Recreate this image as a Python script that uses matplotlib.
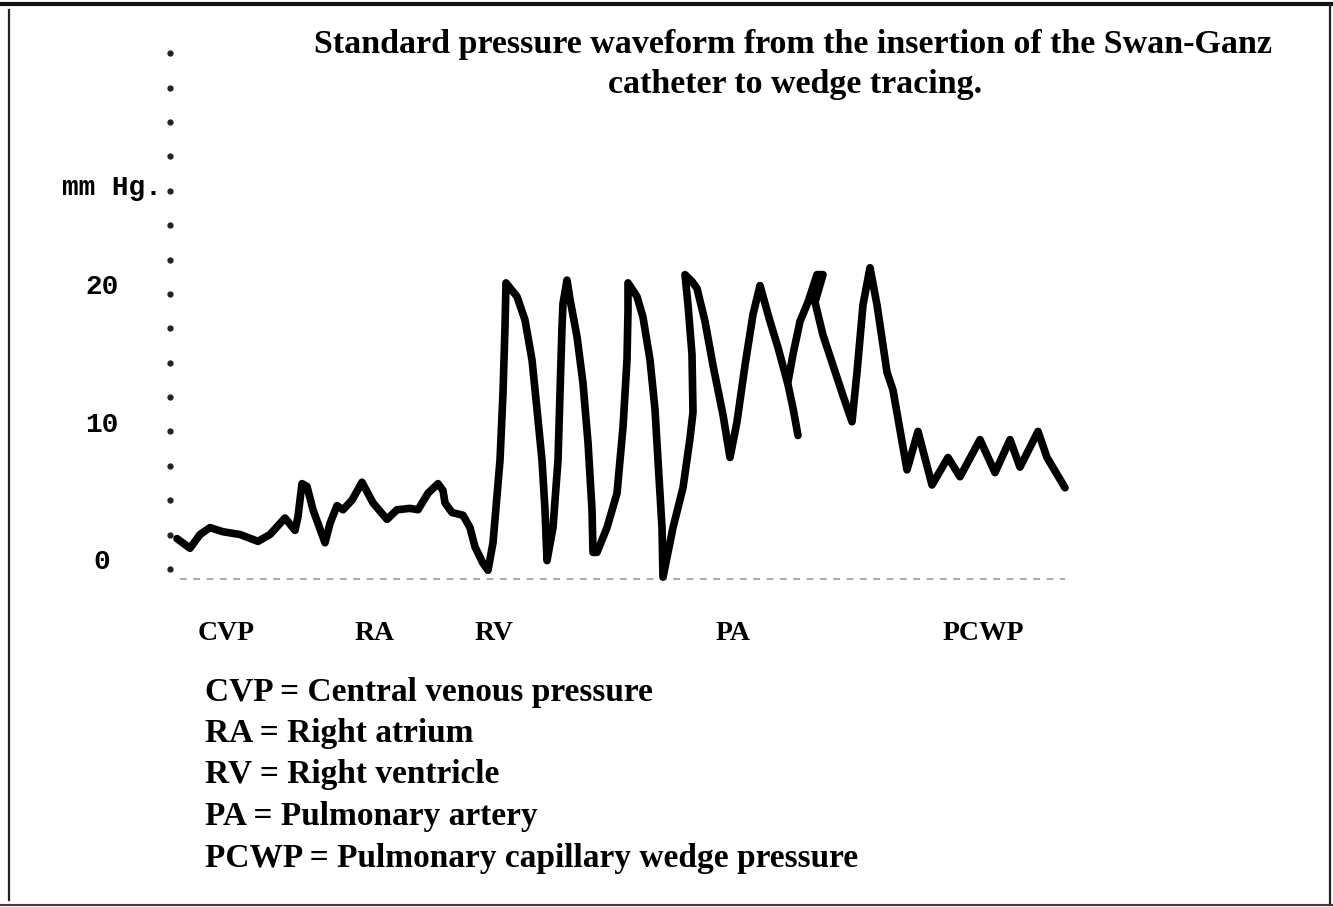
import matplotlib
matplotlib.use("Agg")
import matplotlib.pyplot as plt
import numpy as np

# Waveform: time position (px along strip) and pressure (mm Hg)
# first stroke: CVP -> RA -> RV -> PA
t_a = [177, 190, 200, 210, 223, 240, 258, 270, 285, 295, 298, 302, 307, 313, 325,
       330, 337, 343, 352, 362, 373, 387, 397, 410, 418, 428, 438, 443, 445, 452,
       463, 470, 475, 483, 488, 493, 500, 503, 505, 506, 517, 525, 532, 537, 542,
       545, 547, 553, 558, 560, 562, 563, 567, 570, 577, 583, 588, 592, 593, 597,
       607, 617, 623, 627, 628, 628, 637, 643, 650, 655, 658, 662, 663, 673, 683,
       690, 693, 692, 688, 685, 692, 697, 705, 713, 723, 730, 737, 745, 753, 760,
       770, 778, 788, 793, 798]
p_a = [1.7, 1.0, 2.0, 2.5, 2.2, 2.0, 1.5, 2.0, 3.2, 2.3, 3.3, 5.7, 5.5, 3.8, 1.4,
       2.8, 4.1, 3.8, 4.5, 5.8, 4.3, 3.1, 3.8, 3.9, 3.8, 5.0, 5.7, 5.2, 4.3, 3.6,
       3.4, 2.5, 1.1, -0.1, -0.6, 1.4, 7.4, 12.3, 17.1, 20.3, 19.3, 17.6, 14.7, 11.1, 7.4,
       3.8, 0.1, 2.5, 7.4, 12.3, 17.1, 18.8, 20.5, 19.1, 16.4, 13.0, 8.7, 3.8, 0.7, 0.7,
       2.5, 5.0, 9.8, 14.7, 18.3, 20.3, 19.3, 17.8, 14.7, 11.1, 7.4, 2.5, -1.1, 2.5, 5.4,
       9.0, 10.9, 15.1, 18.7, 20.9, 20.4, 19.9, 17.5, 14.3, 10.7, 7.6, 10.2, 14.3, 18.0, 20.1,
       17.5, 15.6, 12.9, 11.2, 9.2]
# second stroke: late PA -> PCWP
t_b = [788, 793, 800, 808, 817, 823, 815, 823, 833, 843, 852, 857, 863, 870, 877,
       887, 893, 907, 918, 932, 948, 960, 980, 995, 1010, 1020, 1038, 1047, 1065]
p_b = [13.1, 15.1, 17.5, 18.9, 20.9, 20.9, 18.9, 16.5, 14.3, 12.1, 10.2, 13.8, 18.7, 21.4, 18.7,
       13.8, 12.5, 6.7, 9.5, 5.6, 7.6, 6.2, 8.9, 6.5, 8.9, 6.9, 9.5, 7.6, 5.4]

tick_values = [20, 10, 0]
tick_labels = ["20", "10", "0"]

segment_names = ["CVP", "RA", "RV", "PA", "PCWP"]
segment_pos = [226, 375, 494, 733, 983]

legend_lines = ["CVP = Central venous pressure",
                "RA = Right atrium",
                "RV = Right ventricle",
                "PA = Pulmonary artery",
                "PCWP = Pulmonary capillary wedge pressure"]

W, H = 1333, 907
zero_px, px_per_unit = 562, 13.75

fig = plt.figure(figsize=(W / 100, H / 100), dpi=100)
ax = fig.add_axes([0, 0, 1, 1])
ax.set_xlim(0, W)
ax.set_ylim((zero_px - H) / px_per_unit, zero_px / px_per_unit)
ax.axis("off")

serif = "Liberation Serif"
mono = "Liberation Mono"

def fx(x):
    return x / W

def fy(y):
    return 1 - y / H

def py(y):
    # pixel row -> mm Hg, for the page decorations
    return (zero_px - y) / px_per_unit

# scanned page borders
ax.plot([0, W], [py(4)] * 2, color="#111111", lw=3)
ax.plot([9, 9], [py(900), py(10)], color="#222222", lw=1.6)
ax.plot([1330, 1330], [py(905), py(5)], color="#222222", lw=1.6)
ax.plot([0, W], [py(905)] * 2, color="#553333", lw=1.5)

# dotted y axis
dots = np.arange(-0.5, 37.6, 2.5)
ax.plot([170] * len(dots), dots, linestyle="none", marker="o", ms=3.5, color="#222222")

# faint baseline
ax.plot([180, 1065], [-1.2, -1.2], color="#999999", lw=1.2, ls=(0, (4, 4)))

# pressure trace
ax.plot(t_a, p_a, color="black", lw=5.5, solid_joinstyle="round", solid_capstyle="round")
ax.plot(t_b, p_b, color="black", lw=5.5, solid_joinstyle="round", solid_capstyle="round")

for v, lab in zip(tick_values, tick_labels):
    ax.text(102, v, lab, family=mono, fontsize=20, fontweight="bold", ha="center", va="center")
fig.text(fx(62), fy(188), "mm Hg.", family=mono, fontsize=20, fontweight="bold", ha="left", va="center")

fig.text(fx(793), fy(45), "Standard pressure waveform from the insertion of the Swan-Ganz",
         family=serif, fontsize=24.5, fontweight="bold", ha="center", va="center")
fig.text(fx(795), fy(85), "catheter to wedge tracing.",
         family=serif, fontsize=24.5, fontweight="bold", ha="center", va="center")

for name, x in zip(segment_names, segment_pos):
    fig.text(fx(x), fy(633), name, family=serif, fontsize=20, fontweight="bold", ha="center", va="center")

for i, line in enumerate(legend_lines):
    fig.text(fx(205), fy(692 + i * 41.5), line, family=serif, fontsize=24, fontweight="bold",
             ha="left", va="center")

fig.savefig("out.png", dpi=100, facecolor="white")
